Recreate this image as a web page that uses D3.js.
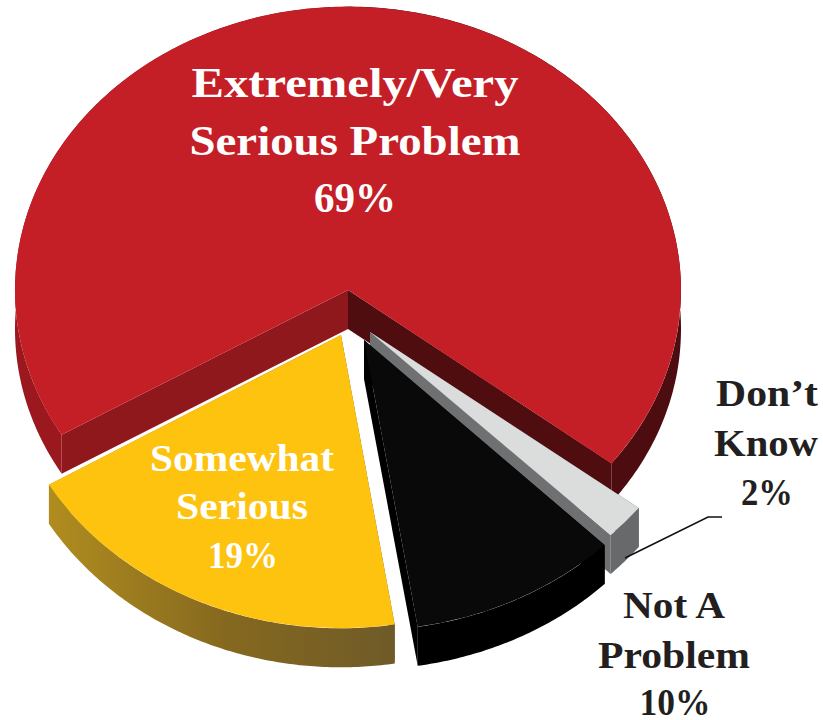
<!DOCTYPE html>
<html>
<head>
<meta charset="utf-8">
<script src="https://cdn.jsdelivr.net/npm/d3@7/dist/d3.min.js"></script>
<style>
  html, body { margin: 0; background: #fff; }
  text { font-family: "Liberation Serif", serif; font-weight: bold; text-anchor: middle; }
</style>
</head>
<body>
<div id="chart"></div>
<script>
// data
var categories = ["Don't Know", "Not A Problem", "Somewhat Serious", "Extremely/Very Serious Problem"];
var values = [2, 10, 19, 69];
var labelLines = [
  ["Don\u2019t", "Know", "2%"],
  ["Not A", "Problem", "10%"],
  ["Somewhat", "Serious", "19%"],
  ["Extremely/Very", "Serious Problem", "69%"]
];

// chart area
var svgWidth = 823, svgHeight = 720;
var rx = 333, ry = 282, depth = 39;
var startDeg = 127.7;

// per slice look, same order as the data
var apex = [[370, 332], [364, 340], [341, 335], [348, 290]];
var scaleX = [1.02, 1.02, 1.02, 1];
var scaleY = [1.02, 1.03, 1.04, 1.005];
var topFill = ["#dbdcdc", "#090909", "#fdc30f", "#c41e26"];
var startWall = ["#6f7072", "#000000", "#75602c", "#8f181d"];
var endWall = ["#6f7072", "#000000", "#a5821f", "#500d10"];
var rimA = ["#68696b", "#000000", "url(#yellowWall)", "#9a181e"];
var rimB = ["#68696b", "#000000", "url(#yellowWall)", "#4d0d10"];

var svg = d3.select("#chart").append("svg")
    .attr("width", svgWidth)
    .attr("height", svgHeight);

// x values are relative to the yellow slice apex
var grad = svg.append("defs").append("linearGradient")
    .attr("id", "yellowWall")
    .attr("gradientUnits", "userSpaceOnUse")
    .attr("x1", -290).attr("x2", 55).attr("y1", 0).attr("y2", 0);
grad.append("stop").attr("offset", "0").attr("stop-color", "#b08c1f");
grad.append("stop").attr("offset", "0.5").attr("stop-color", "#86691f");
grad.append("stop").attr("offset", "1").attr("stop-color", "#6f5a28");

var startAngle = startDeg * Math.PI / 180;
var pie = d3.pie().sort(null).startAngle(startAngle).endAngle(startAngle + 2 * Math.PI);
var slices = pie(values);

var poly = d3.line();

// red goes first, then grey, black and yellow in front
[3, 0, 1, 2].forEach(function(i) {
  var d = slices[i];
  var xs = d3.scaleLinear().domain([-1, 1]).range([-rx * scaleX[i], rx * scaleX[i]]);
  var ys = d3.scaleLinear().domain([-1, 1]).range([-ry * scaleY[i], ry * scaleY[i]]);
  function corner(a) {
    return [xs(Math.sin(a)), ys(-Math.cos(a))];
  }

  var g = svg.append("g")
      .attr("transform", "translate(" + apex[i][0] + "," + apex[i][1] + ")");

  // flat wall going from the apex out to the rim at angle a
  function innerWall(a, fill) {
    var p = corner(a);
    g.append("path")
      .attr("d", poly([[0, 0], p, [p[0], p[1] + depth], [0, depth]]) + "Z")
      .attr("fill", fill);
  }

  // curved wall along the rim
  function rimWall(a0, a1, fill) {
    var top = d3.range(a0, a1, 0.01).concat([a1]).map(corner);
    var bottom = top.map(function(p) { return [p[0], p[1] + depth]; }).reverse();
    g.append("path")
      .attr("d", poly(top.concat(bottom)) + "Z")
      .attr("fill", fill);
  }

  innerWall(d.startAngle, startWall[i]);
  innerWall(d.endAngle, endWall[i]);

  var split = Math.max(d.startAngle, Math.min(d.endAngle, 2 * Math.PI));
  if (split > d.startAngle) rimWall(d.startAngle, split, rimA[i]);
  if (split < d.endAngle) rimWall(split, d.endAngle, rimB[i]);

  var arc = d3.arc().innerRadius(0).outerRadius(1);
  g.append("path")
    .attr("transform", "scale(" + (rx * scaleX[i]) + "," + (ry * scaleY[i]) + ")")
    .attr("d", arc(d))
    .attr("fill", topFill[i]);
});

// leader for the small slice
svg.append("path")
  .attr("d", poly([[625, 558], [708, 517], [722, 517]]))
  .attr("fill", "none")
  .attr("stroke", "#111")
  .attr("stroke-width", 1.6);

// labels
var labelPos = [
  { x: [767, 766, 767], y: [406, 456, 505], w: [102, 104, 52], size: 37, fill: "#231f20" },
  { x: [674, 674, 675], y: [618, 668, 715], w: [102, 152, 71], size: 37, fill: "#231f20" },
  { x: [242, 242, 243], y: [471, 519, 568], w: [184, 132, 70], size: 37, fill: "#ffffff" },
  { x: [355, 355, 355], y: [97, 155, 212], w: [327, 331, 82], size: 42, fill: "#ffffff" }
];

labelLines.forEach(function(lines, i) {
  var pos = labelPos[i];
  lines.forEach(function(line, j) {
    svg.append("text")
      .attr("x", pos.x[j])
      .attr("y", pos.y[j])
      .attr("font-size", pos.size)
      .attr("textLength", pos.w[j])
      .attr("lengthAdjust", "spacingAndGlyphs")
      .attr("fill", pos.fill)
      .text(line);
  });
});
</script>
</body>
</html>
